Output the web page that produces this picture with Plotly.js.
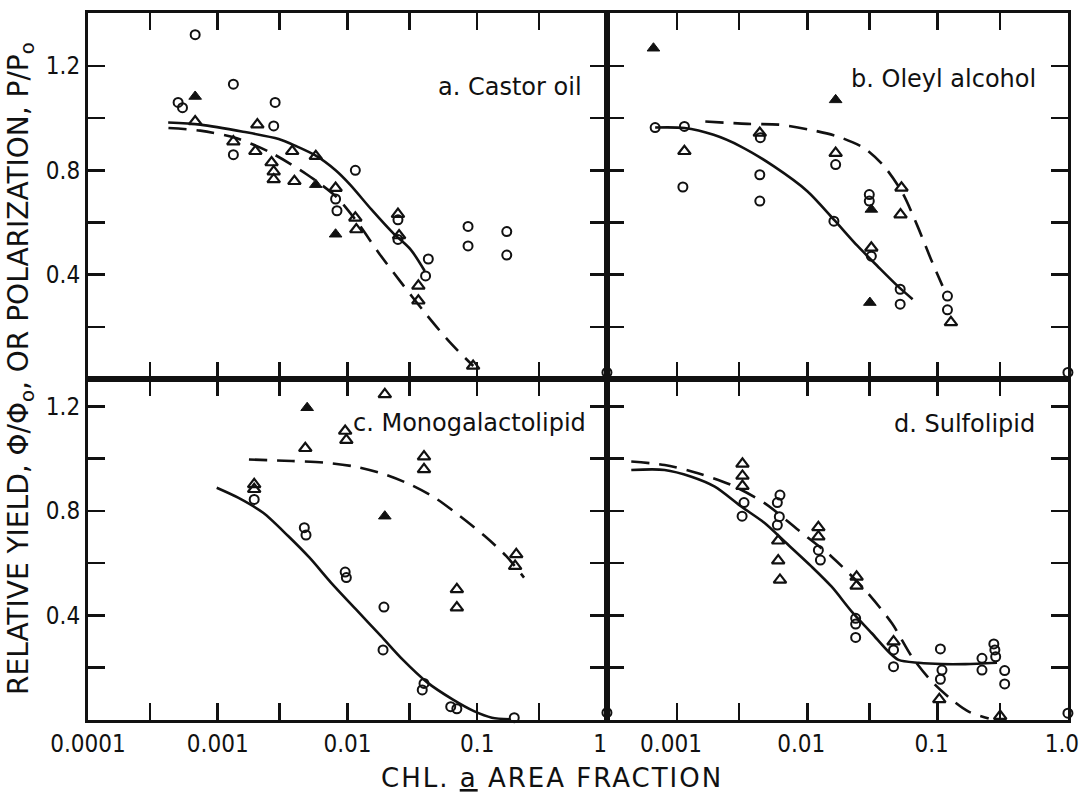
<!DOCTYPE html>
<html><head><meta charset="utf-8">
<script src="https://cdn.plot.ly/plotly-3.0.1.min.js"></script>
<style>html,body{margin:0;padding:0;background:#fff}#chart{width:1085px;height:792px}</style>
</head><body><div id="chart"></div>
<script>
// ---------- Panel a: Castor oil ----------
const circA_x = [0.00067, 0.000495, 0.000535, 0.00132, 0.00277, 0.0027, 0.00132, 0.0115, 0.0081, 0.0083, 0.0245, 0.0245, 0.042, 0.040, 0.085, 0.085, 0.169, 0.169, 1.0];
const circA_y = [1.32, 1.06, 1.04, 1.13, 1.06, 0.97, 0.86, 0.80, 0.69, 0.645, 0.61, 0.535, 0.46, 0.395, 0.585, 0.51, 0.565, 0.475, 0.025];
const triA_x = [0.00067, 0.00202, 0.00132, 0.00195, 0.00375, 0.0057, 0.0026, 0.0027, 0.0027, 0.0039, 0.0081, 0.0115, 0.0117, 0.0245, 0.0250, 0.0352, 0.0352, 0.093];
const triA_y = [0.987, 0.975, 0.91, 0.873, 0.873, 0.854, 0.83, 0.795, 0.765, 0.758, 0.732, 0.618, 0.573, 0.632, 0.55, 0.357, 0.30, 0.05];
const fillA_x = [0.00067, 0.0057, 0.0081];
const fillA_y = [1.083, 0.745, 0.555];
const solidA_x = [0.000415, 0.000733, 0.001567, 0.00295, 0.0040, 0.0057, 0.0081, 0.01047, 0.01528, 0.0224, 0.0306, 0.0394];
const solidA_y = [0.983, 0.975, 0.948, 0.92, 0.893, 0.856, 0.80, 0.745, 0.65, 0.56, 0.497, 0.414];
const dashA_x = [0.000417, 0.000733, 0.00138, 0.0026, 0.0049, 0.00813, 0.01175, 0.01738, 0.02535, 0.0394, 0.0617, 0.0933];
const dashA_y = [0.962, 0.952, 0.924, 0.866, 0.783, 0.70, 0.605, 0.484, 0.376, 0.255, 0.14, 0.05];

// ---------- Panel b: Oleyl alcohol ----------
const circB_x = [0.00068, 0.00114, 0.00111, 0.00432, 0.00432, 0.00436, 0.016, 0.0165, 0.0299, 0.0299, 0.031, 0.0516, 0.0516, 0.119, 0.119, 1.0];
const circB_y = [0.964, 0.968, 0.736, 0.783, 0.682, 0.925, 0.605, 0.822, 0.707, 0.682, 0.471, 0.344, 0.287, 0.318, 0.265, 0.025];
const triB_x = [0.00114, 0.00432, 0.0165, 0.031, 0.0528, 0.0519, 0.1265];
const triB_y = [0.873, 0.943, 0.866, 0.503, 0.733, 0.63, 0.217];
const fillB_x = [0.00066, 0.0165, 0.031, 0.0302];
const fillB_y = [1.268, 1.07, 0.65, 0.293];
const solidB_x = [0.00068, 0.00114, 0.00191, 0.00307, 0.00555, 0.01, 0.016, 0.0243, 0.0345, 0.0492, 0.0643];
const solidB_y = [0.964, 0.962, 0.936, 0.892, 0.815, 0.72, 0.611, 0.51, 0.433, 0.357, 0.306];
const dashB_x = [0.00165, 0.00347, 0.00605, 0.0106, 0.017, 0.0273, 0.0389, 0.0538, 0.0701, 0.0889, 0.109];
const dashB_y = [0.987, 0.978, 0.975, 0.955, 0.93, 0.885, 0.815, 0.713, 0.586, 0.459, 0.357];

// ---------- Panel c: Monogalactolipid ----------
const circC_x = [0.00191, 0.00465, 0.00479, 0.0096, 0.0098, 0.0191, 0.0188, 0.0389, 0.0377, 0.0625, 0.0697, 0.193, 1.0];
const circC_y = [0.844, 0.736, 0.708, 0.566, 0.545, 0.432, 0.268, 0.14, 0.115, 0.051, 0.043, 0.009, 0.028];
const triC_x = [0.0194, 0.00473, 0.0096, 0.0098, 0.00191, 0.00191, 0.0389, 0.0389, 0.0697, 0.0697, 0.20, 0.196];
const triC_y = [1.246, 1.04, 1.106, 1.071, 0.902, 0.883, 1.008, 0.959, 0.50, 0.43, 0.634, 0.589];
const fillC_x = [0.00489, 0.0194];
const fillC_y = [1.195, 0.78];
const solidC_x = [0.000982, 0.001435, 0.00224, 0.00349, 0.0051, 0.00746, 0.01164, 0.01816, 0.02655, 0.0414, 0.0646, 0.0944, 0.1297, 0.178];
const solidC_y = [0.889, 0.851, 0.793, 0.704, 0.621, 0.526, 0.423, 0.321, 0.232, 0.143, 0.079, 0.034, 0.009, 0.003];
const dashC_x = [0.00174, 0.00372, 0.0066, 0.01164, 0.01936, 0.0302, 0.047, 0.0733, 0.1143, 0.167, 0.2296];
const dashC_y = [0.997, 0.991, 0.985, 0.969, 0.94, 0.902, 0.851, 0.781, 0.704, 0.628, 0.545];

// ---------- Panel d: Sulfolipid ----------
const circD_x = [0.00327, 0.00316, 0.00617, 0.00589, 0.0061, 0.00589, 0.01216, 0.0126, 0.0235, 0.0235, 0.0235, 0.0459, 0.0459, 0.105, 0.108, 0.105, 0.219, 0.219, 0.27, 0.275, 0.279, 0.327, 0.327, 1.0];
const circD_y = [0.832, 0.78, 0.861, 0.832, 0.778, 0.746, 0.65, 0.612, 0.389, 0.367, 0.316, 0.268, 0.204, 0.272, 0.191, 0.156, 0.236, 0.191, 0.291, 0.268, 0.242, 0.189, 0.138, 0.026];
const triD_x = [0.00318, 0.00318, 0.00318, 0.00598, 0.00598, 0.00617, 0.01216, 0.01216, 0.0239, 0.0239, 0.0459, 0.103, 0.302];
const triD_y = [0.98, 0.934, 0.895, 0.686, 0.61, 0.536, 0.737, 0.702, 0.548, 0.513, 0.30, 0.079, 0.015];
const solidD_x = [0.000446, 0.000804, 0.00129, 0.00195, 0.00313, 0.00473, 0.00673, 0.01079, 0.01538, 0.02193, 0.03126, 0.042, 0.0501, 0.0715, 0.1079, 0.1633, 0.2858];
const solidD_y = [0.957, 0.957, 0.931, 0.893, 0.816, 0.753, 0.682, 0.587, 0.51, 0.415, 0.332, 0.261, 0.23, 0.219, 0.214, 0.214, 0.219];
const dashD_x = [0.000446, 0.000804, 0.00145, 0.00262, 0.00473, 0.00853, 0.01538, 0.0278, 0.0446, 0.0635, 0.0904, 0.1288, 0.173, 0.2466];
const dashD_y = [0.989, 0.976, 0.944, 0.899, 0.829, 0.727, 0.625, 0.497, 0.37, 0.242, 0.147, 0.077, 0.032, 0.006];

// ---------- Labels ----------
const panelLabels = ['a. Castor oil', 'b. Oleyl alcohol', 'c. Monogalactolipid', 'd. Sulfolipid'];
const leftTickVals = [0.0001, 0.0003, 0.001, 0.003, 0.01, 0.03, 0.1, 0.3, 1];
const leftTickText = ['0.0001', '', '0.001', '', '0.01', '', '0.1', '', '1\u00A0\u00A0'];
const rightTickVals = [0.001, 0.003, 0.01, 0.03, 0.1, 0.3, 1];
const rightTickText = ['0.001', '', '0.01', '', '0.1', '', '1.0'];
const yTickVals = [0.2, 0.4, 0.6, 0.8, 1.0, 1.2];
const yTickText = ['', '0.4', '', '0.8', '', '1.2'];
const xTitle = '<span style="letter-spacing:2px">CHL. <u>a</u> AREA FRACTION</span>';
const yTitle = 'RELATIVE YIELD, \u03A6/\u03A6<sub>o</sub>, OR POLARIZATION, P/P<sub>o</sub>';

const INK = '#111';
function circles(x, y, xa, ya) {
  return {x, y, xaxis: xa, yaxis: ya, type: 'scatter', mode: 'markers', cliponaxis: false,
    marker: {symbol: 'circle-open', size: 9, color: INK, line: {width: 2, color: INK}}, hoverinfo: 'skip'};
}
function tris(x, y, xa, ya) {
  return {x, y, xaxis: xa, yaxis: ya, type: 'scatter', mode: 'markers', cliponaxis: false,
    marker: {symbol: 'triangle-up-open', size: 11, color: INK, line: {width: 2.2, color: INK}}, hoverinfo: 'skip'};
}
function filled(x, y, xa, ya) {
  return {x, y, xaxis: xa, yaxis: ya, type: 'scatter', mode: 'markers', cliponaxis: false,
    marker: {symbol: 'triangle-up', size: 11, color: INK, line: {width: 1, color: INK}}, hoverinfo: 'skip'};
}
function curve(x, y, xa, ya, dash) {
  return {x, y, xaxis: xa, yaxis: ya, type: 'scatter', mode: 'lines',
    line: {color: INK, width: 2.6, dash: dash ? '18px,10px' : 'solid', shape: 'spline', smoothing: 0.8}, hoverinfo: 'skip'};
}

const data = [
  curve(solidA_x, solidA_y, 'x3', 'y3', false), curve(dashA_x, dashA_y, 'x3', 'y3', true),
  circles(circA_x, circA_y, 'x3', 'y3'), tris(triA_x, triA_y, 'x3', 'y3'), filled(fillA_x, fillA_y, 'x3', 'y3'),
  curve(solidB_x, solidB_y, 'x4', 'y4', false), curve(dashB_x, dashB_y, 'x4', 'y4', true),
  circles(circB_x, circB_y, 'x4', 'y4'), tris(triB_x, triB_y, 'x4', 'y4'), filled(fillB_x, fillB_y, 'x4', 'y4'),
  curve(solidC_x, solidC_y, 'x', 'y', false), curve(dashC_x, dashC_y, 'x', 'y', true),
  circles(circC_x, circC_y, 'x', 'y'), tris(triC_x, triC_y, 'x', 'y'), filled(fillC_x, fillC_y, 'x', 'y'),
  curve(solidD_x, solidD_y, 'x2', 'y2', false), curve(dashD_x, dashD_y, 'x2', 'y2', true),
  circles(circD_x, circD_y, 'x2', 'y2'), tris(triD_x, triD_y, 'x2', 'y2')
];

const W = 1085, H = 792;
const xL = [88 / W, 607 / W], xR = [607 / W, 1068 / W];
const yT = [(H - 379) / H, (H - 13) / H], yB = [(H - 720) / H, (H - 379) / H];
const tickFont = {family: 'DejaVu Sans Condensed, Liberation Sans Narrow, DejaVu Sans, sans-serif', size: 24, color: INK};

function xax(domain, anchor, left, labels) {
  return {domain, anchor, type: 'log', range: left ? [-4, 0.0005] : [-3.537, 0.0005],
    tickmode: 'array', tickvals: left ? leftTickVals : rightTickVals,
    ticktext: labels ? (left ? leftTickText : rightTickText) : (left ? leftTickVals : rightTickVals).map(() => ' '),
    showticklabels: labels, ticklabeloverflow: 'allow', ticklabelshift: left ? 0 : -6,
    ticks: 'inside', ticklen: 17, tickwidth: 2.5, tickcolor: INK,
    showline: true, linewidth: 3, linecolor: INK, mirror: 'ticks', showgrid: false, zeroline: false,
    tickfont: tickFont, fixedrange: true};
}
function yax(domain, anchor, top, labels) {
  return {domain, anchor, range: top ? [0, 1.403] : [0, 1.305],
    tickmode: 'array', tickvals: yTickVals, ticktext: labels ? yTickText : yTickVals.map(() => ' '),
    showticklabels: labels, ticklabeloverflow: 'allow', ticks: 'inside', ticklen: 17, tickwidth: 2.5, tickcolor: INK,
    showline: true, linewidth: 3, linecolor: INK, mirror: 'ticks', showgrid: false, zeroline: false,
    tickfont: tickFont, fixedrange: true};
}

const labelFont = {family: 'DejaVu Sans, Liberation Sans, sans-serif', size: 24, color: INK};
const layout = {
  width: W, height: H, margin: {l: 0, r: 0, t: 0, b: 0},
  paper_bgcolor: '#fff', plot_bgcolor: '#fff', showlegend: false,
  xaxis: xax(xL, 'y', true, true), yaxis: yax(yB, 'x', false, true),
  xaxis2: xax(xR, 'y2', false, true), yaxis2: yax(yB, 'x2', false, false),
  xaxis3: xax(xL, 'y3', true, false), yaxis3: yax(yT, 'x3', true, true),
  xaxis4: xax(xR, 'y4', false, false), yaxis4: yax(yT, 'x4', true, false),
  annotations: [
    {xref: 'x3', yref: 'y3', x: -0.177, y: 1.12, text: panelLabels[0], xanchor: 'right', yanchor: 'middle', showarrow: false, font: labelFont},
    {xref: 'x4', yref: 'y4', x: -0.23, y: 1.15, text: panelLabels[1], xanchor: 'right', yanchor: 'middle', showarrow: false, font: labelFont},
    {xref: 'x', yref: 'y', x: -0.143, y: 1.135, text: panelLabels[2], xanchor: 'right', yanchor: 'middle', showarrow: false, font: labelFont},
    {xref: 'x2', yref: 'y2', x: -0.238, y: 1.133, text: panelLabels[3], xanchor: 'right', yanchor: 'middle', showarrow: false, font: labelFont},
    {xref: 'paper', yref: 'paper', x: 552 / W, y: (H - 778) / H, text: xTitle, xanchor: 'center', yanchor: 'middle', showarrow: false,
      font: {family: 'DejaVu Sans, Liberation Sans, sans-serif', size: 26, color: INK}},
    {xref: 'paper', yref: 'paper', x: 20 / W, y: (H - 369) / H, text: yTitle, textangle: -90, xanchor: 'center', yanchor: 'middle', showarrow: false,
      font: {family: 'DejaVu Sans, Liberation Sans, sans-serif', size: 28, color: INK}}
  ]
};

Plotly.newPlot('chart', data, layout, {staticPlot: true, displayModeBar: false});
</script></body></html>
